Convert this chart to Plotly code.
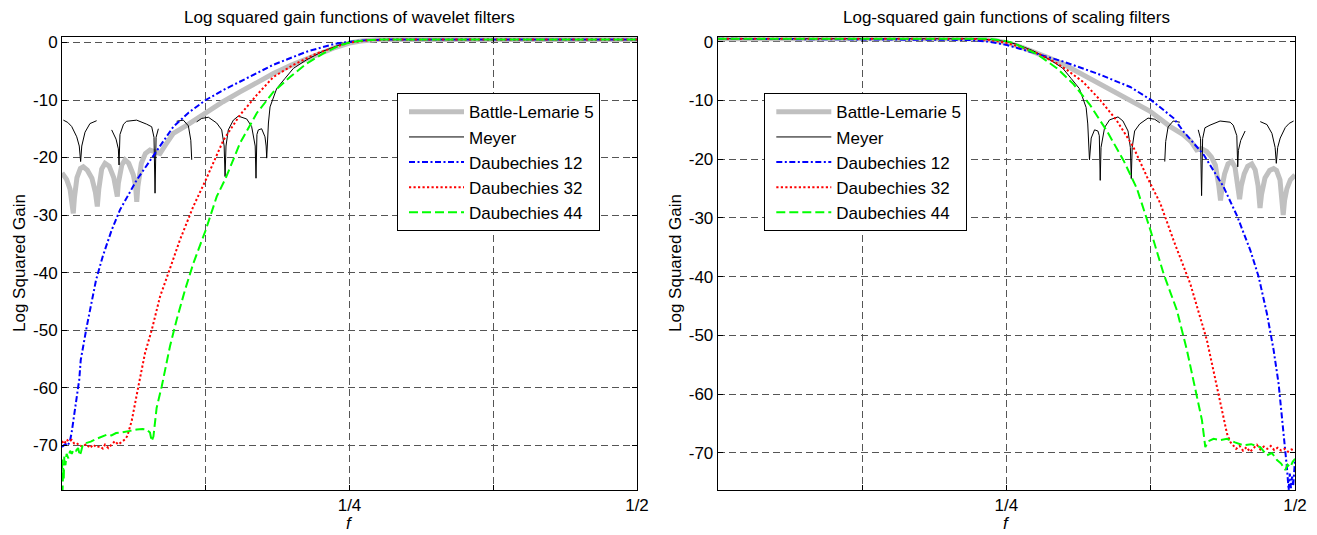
import plotly.graph_objects as go

# ---------------- Wavelet filters (left panel) ----------------
bl_w_f = [0.0, 0.004, 0.007, 0.0088, 0.0098, 0.0108, 0.013, 0.016, 0.0185, 0.022, 0.026, 0.029, 0.0307,
          0.032, 0.0345, 0.0374, 0.041, 0.045, 0.0472, 0.0481, 0.049, 0.052, 0.0548, 0.058, 0.062, 0.064,
          0.065, 0.066, 0.069, 0.0725, 0.0765, 0.081, 0.0852, 0.09, 0.0968, 0.1084, 0.1258, 0.14, 0.1548,
          0.17, 0.1838, 0.2, 0.2128, 0.225, 0.2359, 0.245, 0.25, 0.26, 0.275, 0.5]
bl_w_v = [-22.7, -23.8, -25.5, -27.5, -29.7, -27.0, -23.5, -21.9, -21.6, -22.2, -23.6, -26.0, -28.5,
          -25.5, -22.0, -21.0, -21.5, -23.5, -25.3, -26.8, -24.5, -21.3, -20.4, -21.0, -23.0, -25.0,
          -27.7, -25.0, -21.0, -19.3, -18.7, -18.9, -19.3, -17.8, -15.8, -14.4, -12.0, -10.3, -8.6,
          -6.9, -5.4, -3.9, -2.8, -1.8, -1.0, -0.4, -0.1, 0.25, 0.5, 0.5]

mey_w_f = [0.0012, 0.005, 0.0084, 0.0128, 0.015, 0.0162, 0.0172, 0.02, 0.0243, 0.0301, None,
           0.0432, 0.047, 0.049, 0.0496, 0.0504, 0.0535, 0.0562, 0.0649, 0.0736, 0.078, 0.080, 0.0809,
           0.0818, 0.0838, None,
           0.0997, 0.1055, 0.1099, 0.112, 0.1128, None,
           0.1171, 0.1215, 0.1273, 0.1345, 0.1389, 0.141, 0.1418, 0.1426, 0.1446, 0.149, 0.1533, 0.1606,
           0.1649, 0.168, 0.1687, 0.1695, 0.1707, 0.1736, 0.1765, 0.1775, 0.178, 0.1795, 0.1809, 0.1867,
           0.1939, 0.2012, 0.2128, 0.2272, 0.2417, 0.25, 0.26, 0.275, 0.5]
mey_w_v = [-13.5, -13.9, -14.6, -16.4, -18.0, -20.7, -18.0, -15.6, -14.1, -13.6, None,
           -15.2, -16.8, -18.5, -21.3, -16.0, -14.2, -13.7, -13.5, -14.2, -14.65, -16.5, -26.2,
           -16.5, -15.0, None,
           -13.7, -13.5, -14.5, -17.0, -20.4, None,
           -13.8, -13.2, -13.0, -14.0, -15.2, -18.0, -23.3, -18.0, -15.2, -13.5, -12.8, -13.3,
           -14.6, -18.0, -23.6, -16.0, -15.2, -15.0, -16.4, -18.0, -20.1, -14.0, -11.2, -8.0,
           -6.25, -4.5, -3.0, -1.5, -0.4, 0.0, 0.3, 0.5, 0.5]

d12_w_f = [0.0, 0.003, 0.005, 0.007, 0.0084, 0.0113, 0.015, 0.0163, 0.0215, 0.0296, 0.0354, 0.0432,
           0.0504, 0.065, 0.081, 0.0968, 0.11, 0.125, 0.14, 0.155, 0.17, 0.1835, 0.2, 0.2128, 0.225,
           0.236, 0.245, 0.25, 0.26, 0.28, 0.5]
d12_w_v = [-70.3, -69.8, -70.1, -69.2, -67.8, -63.8, -58.6, -55.2, -49.4, -41.3, -37.2, -32.6,
           -29.1, -23.9, -19.3, -14.65, -12.2, -10.0, -8.3, -6.8, -5.2, -3.9, -2.6, -1.6, -0.9,
           -0.3, 0.0, 0.15, 0.35, 0.5, 0.5]

d32_w_f = [0.0, 0.002, 0.0041, 0.006, 0.0084, 0.0105, 0.0128, 0.015, 0.0186, 0.021, 0.0243, 0.0272,
           0.030, 0.033, 0.0355, 0.0374, 0.0403, 0.0432, 0.046, 0.0489, 0.0519, 0.0548, 0.0568, 0.059,
           0.0606, 0.0664, 0.0722, 0.078, 0.0852, 0.0925, 0.1026, 0.1142, 0.125, 0.1403, 0.1548,
           0.1693, 0.1838, 0.2011, 0.207, 0.2215, 0.236, 0.25, 0.265, 0.28, 0.5]
d32_w_v = [-69.3, -69.8, -69.0, -69.4, -69.1, -69.7, -69.6, -70.1, -70.2, -69.8, -70.5, -69.9,
           -70.4, -70.2, -70.6, -69.9, -70.5, -69.9, -69.3, -69.9, -69.5, -69.0, -68.4, -66.8,
           -65.8, -59.8, -54.0, -50.0, -44.2, -40.1, -34.3, -28.5, -23.9, -17.0, -12.6,
           -9.15, -6.0, -3.9, -3.3, -1.9, -0.9, 0.0, 0.35, 0.5, 0.5]

d44_w_f = [0.0, 0.0005, 0.001, 0.0015, 0.002, 0.003, 0.004, 0.0055, 0.007, 0.0085, 0.01, 0.012, 0.014,
           0.0155, 0.0165, 0.018, 0.0215, 0.025, 0.03, 0.0345, 0.0389, 0.043, 0.047, 0.052, 0.0563,
           0.06, 0.065, 0.07, 0.0736, 0.0765, 0.078, 0.0795, 0.0823, 0.0867, 0.0939, 0.0997, 0.107,
           0.1142, 0.125, 0.1345, 0.1423, 0.1548, 0.1693, 0.1838, 0.1983, 0.2128, 0.2272, 0.2417,
           0.25, 0.26, 0.275, 0.5]
d44_w_v = [-72.5, -77.8, -74.0, -76.0, -72.0, -73.5, -71.5, -72.3, -71.0, -71.5, -70.8, -71.0, -70.5,
           -71.8, -71.2, -70.0, -69.6, -69.4, -68.9, -68.5, -68.2, -68.3, -67.9, -67.8, -67.6,
           -67.5, -67.3, -67.2, -67.3, -67.8, -69.3, -68.5, -63.5, -59.8, -52.8, -48.2, -43.0,
           -38.4, -32.6, -26.8, -23.6, -17.5, -12.3, -8.6, -6.0, -3.65, -1.9, -0.5,
           0.0, 0.3, 0.5, 0.5]

# ---------------- Scaling filters (right panel) ----------------
bl_s_f = [0.0, 0.225, 0.24, 0.25, 0.255, 0.2641, 0.275, 0.2872, 0.3, 0.3162, 0.33, 0.3452, 0.36,
          0.3742, 0.3916, 0.4032, 0.41, 0.4148, 0.419, 0.4235, 0.4275, 0.431, 0.434, 0.4355, 0.437,
          0.439, 0.442, 0.4452, 0.448, 0.4505, 0.452, 0.4535, 0.456, 0.459, 0.4626, 0.4655, 0.468,
          0.4697, 0.471, 0.474, 0.478, 0.4815, 0.484, 0.487, 0.4888, 0.4898, 0.491, 0.493, 0.496, 0.5]
bl_s_v = [0.5, 0.5, 0.25, -0.1, -0.4, -1.0, -1.8, -2.8, -3.9, -5.6, -7.1, -8.8, -10.3,
          -11.8, -14.4, -15.8, -17.0, -18.4, -18.2, -18.7, -19.6, -21.0, -24.5, -27.0, -24.5,
          -22.5, -20.8, -20.4, -21.3, -24.5, -26.8, -24.5, -22.5, -21.2, -20.8, -21.8, -24.5,
          -28.3, -26.0, -23.2, -21.9, -21.6, -21.9, -23.5, -26.5, -29.5, -27.0, -25.0, -23.5, -22.7]

mey_s_f = [0.0, 0.225, 0.24, 0.25, 0.2583, 0.2728, 0.2872, 0.2988, 0.3061, 0.3133, 0.3191, 0.3205,
           0.322, 0.3225, 0.3235, 0.3264, 0.3293, 0.3305, 0.3313, 0.332, 0.3351, 0.3394, 0.3467,
           0.351, 0.3554, 0.3574, 0.3582, 0.359, 0.3611, 0.3655, 0.3727, 0.3785, 0.3829, None,
           0.3872, 0.388, 0.3901, 0.3945, 0.4003, None,
           0.4162, 0.4182, 0.4191, 0.42, 0.422, 0.4264, 0.4351, 0.4438, 0.4465, 0.4496, 0.4504, 0.451,
           0.453, 0.4568, None,
           0.4699, 0.4757, 0.48, 0.4828, 0.4838, 0.485, 0.4872, 0.4916, 0.495, 0.4988]
mey_s_v = [0.5, 0.5, 0.3, 0.0, -0.4, -1.5, -3.0, -4.5, -6.25, -8.0, -11.2, -14.0,
           -20.1, -18.0, -16.4, -15.0, -15.2, -16.0, -23.6, -18.0, -14.6, -13.3, -12.8,
           -13.5, -15.2, -18.0, -23.3, -18.0, -15.2, -14.0, -13.0, -13.2, -13.8, None,
           -20.4, -17.0, -14.5, -13.5, -13.7, None,
           -15.0, -16.5, -26.2, -16.5, -14.65, -14.2, -13.5, -13.7, -14.2, -16.0, -21.3, -18.5,
           -16.8, -15.2, None,
           -13.6, -14.1, -15.6, -18.0, -20.7, -18.0, -16.4, -14.6, -13.9, -13.5]

d12_s_f = [0.0, 0.2186, 0.235, 0.2504, 0.2706, 0.2995, 0.3284, 0.3573, 0.3752, 0.3948, 0.4035, 0.4208,
           0.4381, 0.4497, 0.4613, 0.4685, 0.4757, 0.4815, 0.4858, 0.4887, 0.4916, 0.493, 0.4945,
           0.4955, 0.4965, 0.4975, 0.4985, 0.4995, 0.5]
d12_s_v = [0.5, 0.3, 0.0, -0.56, -1.7, -3.4, -5.4, -7.7, -9.9, -13.0, -15.3, -19.2,
           -24.7, -29.6, -35.5, -40.0, -46.3, -52.5, -58.2, -63.9, -69.0, -72.5, -76.3,
           -73.5, -76.0, -74.0, -75.5, -72.5, -71.2]

d32_s_f = [0.0, 0.22, 0.236, 0.25, 0.264, 0.2785, 0.293, 0.3024, 0.3162, 0.3307, 0.3452, 0.3597,
           0.3718, 0.3833, 0.3948, 0.4093, 0.4237, 0.4338, 0.4411, 0.4439, 0.446, 0.449, 0.452,
           0.455, 0.458, 0.461, 0.464, 0.467, 0.470, 0.473, 0.476, 0.479, 0.482, 0.485, 0.488,
           0.491, 0.494, 0.497, 0.5]
d32_s_v = [0.5, 0.5, 0.3, -0.2, -1.0, -2.1, -3.6, -4.8, -6.8, -9.8, -13.3, -17.8,
           -23.0, -27.5, -33.8, -41.2, -50.8, -59.9, -66.7, -68.1, -68.6, -69.3, -68.8,
           -69.6, -69.0, -69.8, -69.2, -68.6, -69.4, -68.9, -69.3, -68.8, -69.5, -69.1, -69.6,
           -69.3, -69.8, -69.4, -69.6]

d44_s_f = [0.0, 0.235, 0.25, 0.256, 0.2764, 0.2937, 0.3081, 0.3226, 0.3371, 0.3515, 0.3631, 0.375,
           0.3862, 0.3977, 0.4064, 0.4136, 0.4194, 0.4223, 0.425, 0.4295, 0.435, 0.4411, 0.448,
           0.4555, 0.462, 0.4699, 0.4757, 0.48, 0.4844, 0.488, 0.4916, 0.4935, 0.4959, 0.498, 0.5]
d44_s_v = [0.5, 0.5, 0.1, -0.2, -2.1, -4.5, -7.2, -10.8, -15.2, -20.2, -25.0, -32.2,
           -39.5, -45.7, -52.5, -58.8, -64.4, -69.0, -68.0, -67.6, -67.8, -67.6, -68.2,
           -68.7, -68.5, -69.0, -70.4, -70.0, -71.2, -71.8, -72.9, -72.0, -72.4, -71.5, -71.0]

names = ["Battle-Lemarie 5", "Meyer", "Daubechies 12", "Daubechies 32", "Daubechies 44"]
styles = [dict(color="#c0c0c0", width=5, dash="solid"),
          dict(color="black", width=1, dash="solid"),
          dict(color="#0000ff", width=2, dash="6px,2.5px,2px,2.5px"),
          dict(color="#ff0000", width=2, dash="2.2px,2.3px"),
          dict(color="#00ff00", width=2, dash="9px,4px")]

left_series = [(bl_w_f, bl_w_v), (mey_w_f, mey_w_v), (d12_w_f, d12_w_v), (d32_w_f, d32_w_v), (d44_w_f, d44_w_v)]
right_series = [(bl_s_f, bl_s_v), (mey_s_f, mey_s_v), (d12_s_f, d12_s_v), (d32_s_f, d32_s_v), (d44_s_f, d44_s_v)]

fig = go.Figure()
for i, (fx, vy) in enumerate(left_series):
    fig.add_trace(go.Scatter(x=fx, y=vy, mode="lines", name=names[i], line=styles[i],
                             xaxis="x", yaxis="y", legend="legend"))
for i, (fx, vy) in enumerate(right_series):
    fig.add_trace(go.Scatter(x=fx, y=vy, mode="lines", name=names[i], line=styles[i],
                             xaxis="x2", yaxis="y2", legend="legend2"))

FONT = "Liberation Sans, Arial, Helvetica, sans-serif"
W, H = 1317, 535
xtick_vals = [0, 0.125, 0.25, 0.375, 0.5]
xtick_text = ["", "", "1/4", "", "1/2"]
ytick_vals = [-70, -60, -50, -40, -30, -20, -10, 0]
ytick_text = ["-70", "-60", "-50", "-40", "-30", "-20", "-10", "0"]

GRID = dict(showgrid=True, gridcolor="#555555", griddash="7px,4px", gridwidth=1, showline=True,
            linecolor="black", linewidth=1, mirror="ticks", ticks="inside", ticklen=5,
            tickcolor="black", zeroline=False, automargin=False,
            tickfont=dict(size=17, color="black", family=FONT))
common_x = dict(tickvals=xtick_vals, ticktext=xtick_text, **GRID)
common_y = dict(tickvals=ytick_vals, ticktext=ytick_text, **GRID)

L_x0, L_x1 = 62, 637
R_x0, R_x1 = 717.7, 1295
Y_top, Y_bot = 37.3, 490

LEG = dict(xanchor="left", yanchor="top", bgcolor="white", bordercolor="black", borderwidth=1,
           font=dict(size=17, family=FONT, color="black"), itemwidth=55, tracegroupgap=0,
           indentation=6, entrywidth=140, entrywidthmode="pixels")

fig.update_layout(
    template="none",
    width=W, height=H, autosize=False, margin=dict(l=0, r=0, t=0, b=0, pad=0),
    paper_bgcolor="white", plot_bgcolor="white",
    font=dict(family=FONT, size=17, color="black"),
    xaxis=dict(domain=[L_x0 / W, L_x1 / W], range=[0, 0.5], anchor="y", **common_x),
    yaxis=dict(domain=[1 - Y_bot / H, 1 - Y_top / H], range=[-77.8, 0.9], anchor="x", **common_y),
    xaxis2=dict(domain=[R_x0 / W, R_x1 / W], range=[0, 0.5], anchor="y2", **common_x),
    yaxis2=dict(domain=[1 - Y_bot / H, 1 - Y_top / H], range=[-76.3, 0.75], anchor="x2", **common_y),
    legend=dict(x=397 / W, y=1 - 93.3 / H, **LEG),
    legend2=dict(x=764.3 / W, y=1 - 93.3 / H, **LEG),
    showlegend=True,
)

annots = [
    dict(text="Log squared gain functions of wavelet filters", x=(L_x0 + L_x1) / 2 / W, y=1 - 17.5 / H),
    dict(text="Log-squared gain functions of scaling filters", x=(R_x0 + R_x1) / 2 / W, y=1 - 17.5 / H),
    dict(text="<i>f</i>", x=(L_x0 + L_x1) / 2 / W, y=1 - 523 / H),
    dict(text="<i>f</i>", x=(R_x0 + R_x1) / 2 / W, y=1 - 523 / H),
    dict(text="Log Squared Gain", x=19 / W, y=1 - 263 / H, textangle=-90),
    dict(text="Log Squared Gain", x=675 / W, y=1 - 263 / H, textangle=-90),
]
for a in annots:
    fig.add_annotation(xref="paper", yref="paper", xanchor="center", yanchor="middle",
                       showarrow=False, font=dict(size=17, family=FONT, color="black"), **a)

fig.write_html("out.html")
